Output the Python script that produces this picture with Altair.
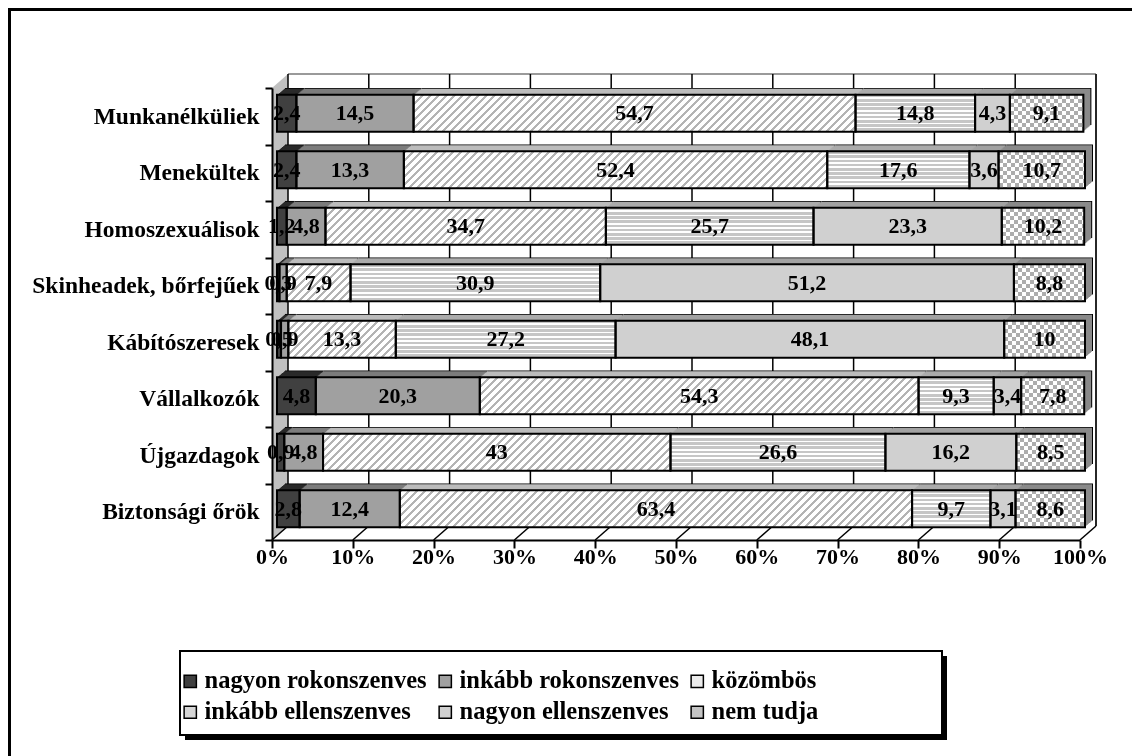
import altair as alt
import pandas as pd

# ---------------- data ----------------
groups = ["Munkanélküliek", "Menekültek", "Homoszexuálisok", "Skinheadek, bőrfejűek",
          "Kábítószeresek", "Vállalkozók", "Újgazdagok", "Biztonsági őrök"]
categories = ["nagyon rokonszenves", "inkább rokonszenves", "közömbös",
              "inkább ellenszenves", "nagyon ellenszenves", "nem tudja"]
nagyon_rokonszenves = [2.4, 2.4, 1.2, 0.3, 0.5, 4.8, 0.9, 2.8]
inkabb_rokonszenves = [14.5, 13.3, 4.8, 0.9, 0.9, 20.3, 4.8, 12.4]
kozombos = [54.7, 52.4, 34.7, 7.9, 13.3, 54.3, 43, 63.4]
inkabb_ellenszenves = [14.8, 17.6, 25.7, 30.9, 27.2, 9.3, 26.6, 9.7]
nagyon_ellenszenves = [4.3, 3.6, 23.3, 51.2, 48.1, 3.4, 16.2, 3.1]
nem_tudja = [9.1, 10.7, 10.2, 8.8, 10, 7.8, 8.5, 8.6]
x_ticks = [0, 10, 20, 30, 40, 50, 60, 70, 80, 90, 100]

series = [nagyon_rokonszenves, inkabb_rokonszenves, kozombos,
          inkabb_ellenszenves, nagyon_ellenszenves, nem_tudja]

rows = []
for gi, g in enumerate(groups):
    acc = 0.0
    for ci, c in enumerate(categories):
        v = series[ci][gi]
        rows.append(dict(group=g, gi=gi, cat=c, ci=ci, value=v, start=acc, end=acc + v,
                         mid=acc + v / 2, label=f"{v:g}".replace(".", ",")))
        acc += v
df = pd.DataFrame(rows)
ticks_df = pd.DataFrame({"t": x_ticks})

# ---------------- geometry / style ----------------
W, H = 808, 452
BH = 37          # bar thickness
BX, BY = 5, -3   # front face offset of bars
WD, WH = 16, 14  # wall depth
FONT = "Liberation Serif"

legend_colors = ["#404040", "#a0a0a0", "#ececec", "#d6d6d6", "#d0d0d0", "#c4c4c4"]


def stops(period, on, n, denom, c_on, c_off):
    parts = []
    for i in range(n):
        a = i * period
        b = a + on
        c = (i + 1) * period
        for off, col in ((a, c_on), (b, c_on), (b, c_off), (c, c_off)):
            parts.append(f"{{offset:min(1,{off}/{denom}),color:'{col}'}}")
    return "[" + ",".join(parts) + "]"


diag = ("{gradient:'linear',x1:0,y1:0,x2:datum.gk,y2:datum.gk*%d/datum.w,stops:%s}"
        % (BH, stops(8, 3, 72, "datum.L", "#b4b4b4", "#ffffff")))
horiz = ("{gradient:'linear',x1:0,y1:0,x2:0,y2:1,stops:%s}"
         % stops(4.2, 2.6, 10, str(BH), "#c6c6c6", "#ffffff"))
vert = ("{gradient:'linear',x1:0,y1:0,x2:1,y2:0,stops:%s}"
        % stops(8, 4, 14, "datum.w", "#000000", "#ffffff"))
grad_expr = (f"datum.ci==2 ? {diag} : datum.ci==3 ? {horiz} : datum.ci==5 ? {vert} : "
             "(datum.ci==0 ? '#404040' : datum.ci==1 ? '#a0a0a0' : '#d0d0d0')")
top_expr = ("datum.ci==0 ? '#2a2a2a' : datum.ci==1 ? '#7c7c7c' : datum.ci==2 ? '#bcbcbc' : "
            "datum.ci==3 ? '#ababab' : datum.ci==4 ? '#a2a2a2' : '#8a8a8a'")

hstripes = {"gradient": "linear", "x1": 0, "y1": 0, "x2": 0, "y2": 1, "stops": []}
for i in range(6):
    a, b, c = i * 8 / BH, (i * 8 + 4) / BH, ((i + 1) * 8) / BH
    for off, col in ((a, "#000000"), (b, "#000000"), (b, "#ffffff"), (c, "#ffffff")):
        hstripes["stops"].append({"offset": min(1.0, off), "color": col})

y_enc = alt.Y("group:N", sort=groups, scale=alt.Scale(paddingInner=0, paddingOuter=0),
              axis=alt.Axis(title=None, labelFont=FONT, labelFontSize=23.5, labelFontWeight="bold",
                            labelColor="black", domainColor="black", domainWidth=2,
                            tickColor="black", tickWidth=2, tickSize=7, tickBand="extent",
                            labelPadding=6, labelLimit=400, zindex=1))
x_enc = alt.X("start:Q", stack=None, scale=alt.Scale(domain=[0, 100], nice=False, zero=True),
              axis=alt.Axis(values=x_ticks, title=None, labelExpr="datum.value + '%'",
                            labelFont=FONT, labelFontSize=22, labelFontWeight="bold",
                            labelColor="black", domainColor="black", domainWidth=2,
                            tickColor="black", tickWidth=2, tickSize=8, grid=False,
                            labelPadding=-2, labelFlush=False, zindex=1))

base = alt.Chart(df).transform_calculate(
    w=f"datum.value*{W}/100"
).transform_calculate(
    L=f"datum.w+{BH}",
    gk=f"(1+{BH}/datum.w)/(1+pow({BH}/datum.w,2))",
).transform_calculate(
    grad=grad_expr,
    topcol=top_expr,
)

one = pd.DataFrame({"a": [0]})

# decorations: frame, legend box, walls, floor
frame_top = alt.Chart(one).mark_rule(color="black", strokeWidth=3).encode(
    x=alt.value(-264), x2=alt.value(1124 - 264), y=alt.value(-80 + 1.5))
frame_left = alt.Chart(one).mark_rule(color="black", strokeWidth=3).encode(
    x=alt.value(-264 + 1.5), y=alt.value(-80), y2=alt.value(748 - 80))
legend_shadow = alt.Chart(one).mark_rect(color="black").encode(
    x=alt.value(-92 + 5), x2=alt.value(670 + 5), y=alt.value(563 + 5), y2=alt.value(647 + 5))
legend_box = alt.Chart(one).mark_rect(fill="white", stroke="black", strokeWidth=2).encode(
    x=alt.value(-92), x2=alt.value(670), y=alt.value(563), y2=alt.value(647))

wall_df = pd.DataFrame({"px": [0, WD], "py": [0, -WH], "py2": [H, H - WH]})
left_wall = alt.Chart(wall_df).mark_area(color="#c0c0c0", opacity=1).encode(
    x=alt.X("px:Q", scale=None, axis=None),
    y=alt.Y("py:Q", scale=None, axis=None),
    y2="py2:Q")
back_top = alt.Chart(one).mark_rule(color="#9a9a9a", strokeWidth=2).encode(
    x=alt.value(WD), x2=alt.value(W + WD), y=alt.value(-WH))
back_right = alt.Chart(one).mark_rule(color="#9a9a9a", strokeWidth=2).encode(
    x=alt.value(W + WD), y=alt.value(-WH), y2=alt.value(H - WH))
grid = alt.Chart(ticks_df).mark_rule(color="black", strokeWidth=1.5, xOffset=WD).encode(
    x=alt.X("t:Q"), y=alt.value(-WH), y2=alt.value(H - WH))
floor = alt.Chart(ticks_df).mark_rule(color="black", strokeWidth=1.5, x2Offset=WD).encode(
    x=alt.X("t:Q"), x2="t:Q", y=alt.value(H), y2=alt.value(H - WH))

layers = [frame_top, frame_left, legend_shadow, legend_box,
          left_wall, back_top, back_right, grid, floor]

# 3D depth of bars: stacked shifted copies
for k in range(8, 0, -1):
    dx = k
    dy = -k * 0.85
    col = alt.value("black") if k == 8 else alt.Fill("topcol:N", scale=None, legend=None)
    layers.append(base.mark_bar(size=BH, xOffset=BX + dx, x2Offset=BX + dx, yOffset=BY + dy).encode(
        y=y_enc, x=x_enc, x2="end:Q", fill=col))

# legend carrier (hidden under patterns)
layers.append(base.mark_bar(size=BH, xOffset=BX, x2Offset=BX, yOffset=BY).encode(
    y=y_enc, x=x_enc, x2="end:Q",
    color=alt.Color("cat:N", sort=categories,
                    scale=alt.Scale(domain=categories, range=legend_colors),
                    legend=alt.Legend(orient="none", legendX=-94, legendY=581, direction="horizontal",
                                      columns=3, title=None, symbolType="square", symbolSize=150,
                                      symbolStrokeColor="black", symbolStrokeWidth=1.5,
                                      labelFont=FONT, labelFontSize=24.5, labelFontWeight="bold",
                                      labelColor="black", columnPadding=6, rowPadding=6,
                                      labelOffset=2, labelLimit=400, padding=0, zindex=5))))

# patterned front faces
layers.append(base.mark_bar(size=BH, xOffset=BX, x2Offset=BX, yOffset=BY).encode(
    y=y_enc, x=x_enc, x2="end:Q", fill=alt.Fill("grad:N", scale=None, legend=None)))

# checkerboard for "nem tudja"
layers.append(base.transform_filter("datum.ci == 5").mark_bar(
    size=BH, xOffset=BX, x2Offset=BX, yOffset=BY, fill=hstripes, blend="difference").encode(
    y=y_enc, x=x_enc, x2="end:Q"))
layers.append(base.transform_filter("datum.ci == 5").mark_bar(
    size=BH, xOffset=BX, x2Offset=BX, yOffset=BY, fill="white", fillOpacity=0.68).encode(
    y=y_enc, x=x_enc, x2="end:Q"))

# outlines
layers.append(base.mark_bar(size=BH, xOffset=BX, x2Offset=BX, yOffset=BY, fillOpacity=0,
                            stroke="black", strokeWidth=2).encode(
    y=y_enc, x=x_enc, x2="end:Q"))

# value labels
layers.append(base.mark_text(font=FONT, fontSize=22, fontWeight="bold", color="black",
                             xOffset=BX, yOffset=BY, baseline="middle", align="center").encode(
    y=y_enc, x=alt.X("mid:Q"), text="label:N"))

chart = alt.layer(*layers).properties(
    width=W, height=H,
    autosize=alt.AutoSizeParams(type="none"),
    padding={"left": 264, "top": 80, "right": 52, "bottom": 216},
    background="white",
).configure_view(stroke=None)

chart.save("out.html", embed_options={"renderer": "svg", "actions": False})
